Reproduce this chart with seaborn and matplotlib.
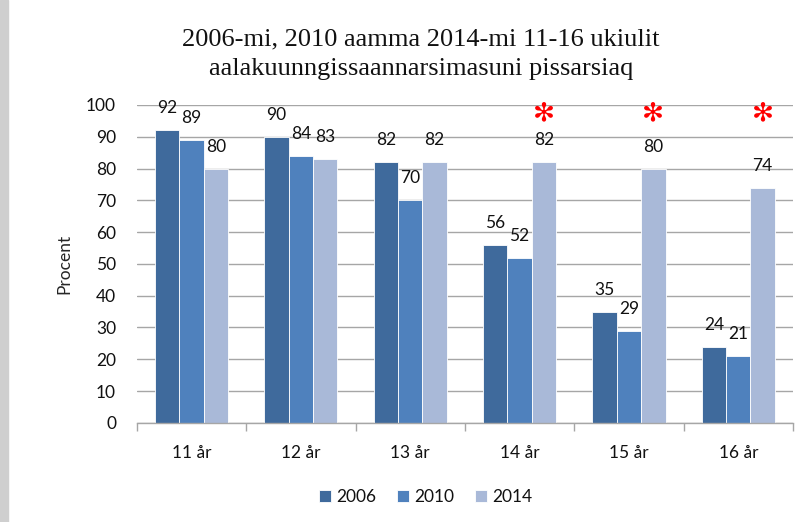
import pandas as pd
import seaborn as sns
import matplotlib.pyplot as plt
from matplotlib.patches import Rectangle

ages = ['11 år', '12 år', '13 år', '14 år', '15 år', '16 år']
years = ['2006', '2010', '2014']
v2006 = [92, 90, 82, 56, 35, 24]
v2010 = [89, 84, 70, 52, 29, 21]
v2014 = [80, 83, 82, 82, 80, 74]
starred = ['14 år', '15 år', '16 år']

colors = ['#3F6A9C', '#4F81BD', '#A9B9D8']

df = pd.DataFrame({
    'age': ages * 3,
    'year': [y for y in years for _ in ages],
    'value': v2006 + v2010 + v2014,
})

sns.set_style('white')
plt.rcParams['font.family'] = ['Lato', 'DejaVu Sans']
plt.rcParams['text.color'] = '#111111'
plt.rcParams['xtick.color'] = '#111111'
plt.rcParams['ytick.color'] = '#111111'

fig = plt.figure(figsize=(8.05, 5.22), dpi=100)
ax = fig.add_axes([0.170, 0.19, 0.815, 0.609])

sns.barplot(data=df, x='age', y='value', hue='year', order=ages,
            hue_order=years, palette=colors, saturation=1, width=0.67, gap=0,
            edgecolor='white', linewidth=0.6, ax=ax, legend=True)

ax.set_ylim(0, 100)
ax.set_xlim(-0.5, len(ages) - 0.5)
ax.set_yticks(range(0, 101, 10))
ax.yaxis.grid(True, color='#A6A6A6', linewidth=1.0)
ax.set_axisbelow(True)
for side in ['left', 'right', 'top']:
    ax.spines[side].set_visible(False)
ax.spines['bottom'].set_color('#A6A6A6')
ax.spines['bottom'].set_linewidth(1.0)

ax.set_xticks([i + 0.5 for i in range(-1, len(ages))], minor=True)
ax.tick_params(axis='x', which='minor', length=6, color='#A6A6A6', width=1, bottom=True)
ax.tick_params(axis='x', which='major', length=0, labelsize=12.5, pad=16)
ax.tick_params(axis='y', length=0, labelsize=12.5, pad=15)

ax.set_xlabel('')
ax.set_ylabel('Procent', fontsize=12.5, labelpad=10)

for cont in ax.containers:
    ax.bar_label(cont, fmt='%d', padding=10, fontsize=12.5)

# red markers above the 2014 bars
for a in starred:
    i = ages.index(a)
    ax.text(i + 0.67 / 3, 97.5, '✻', color='#FF0000', fontsize=19,
            ha='center', va='center', family='DejaVu Sans')

ax.legend(loc='upper center', bbox_to_anchor=(0.44, -0.16), ncol=3,
          frameon=False, fontsize=12.5, handlelength=0.7, handleheight=0.7,
          columnspacing=1.2, handletextpad=0.3)

fig.text(0.523, 0.896, '2006-mi, 2010 aamma 2014-mi 11-16 ukiulit\n'
         'aalakuunngissaannarsimasuni pissarsiaq',
         ha='center', va='center', fontsize=19, family='Liberation Serif',
         linespacing=1.4)

# grey strip on the left edge
fig.patches.append(Rectangle((0, 0), 0.01, 1, transform=fig.transFigure,
                             color='#CFCFCF', zorder=0))

fig.savefig('out.png', dpi=100)
